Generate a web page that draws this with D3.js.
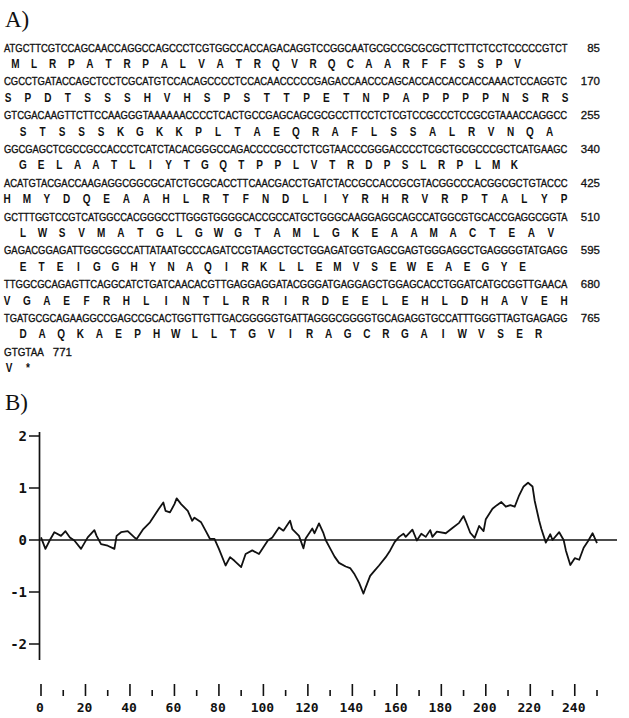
<!DOCTYPE html>
<html><head><meta charset="utf-8">
<script src="https://cdn.jsdelivr.net/npm/d3@7"></script>
<style>html,body{margin:0;padding:0;background:#fff}svg{display:block}</style>
</head><body>
<script>
// Nucleotide sequence, 85 bases per line
const dnaRows = [
  "ATGCTTCGTCCAGCAACCAGGCCAGCCCTCGTGGCCACCAGACAGGTCCGGCAATGCGCCGCGCGCTTCTTCTCCTCCCCCGTCT",
  "CGCCTGATACCAGCTCCTCGCATGTCCACAGCCCCTCCACAACCCCCGAGACCAACCCAGCACCACCACCACCAAACTCCAGGTC",
  "GTCGACAAGTTCTTCCAAGGGTAAAAAACCCCTCACTGCCGAGCAGCGCGCCTTCCTCTCGTCCGCCCTCCGCGTAAACCAGGCC",
  "GGCGAGCTCGCCGCCACCCTCATCTACACGGGCCAGACCCCGCCTCTCGTAACCCGGGACCCCTCGCTGCGCCCGCTCATGAAGC",
  "ACATGTACGACCAAGAGGCGGCGCATCTGCGCACCTTCAACGACCTGATCTACCGCCACCGCGTACGGCCCACGGCGCTGTACCC",
  "GCTTTGGTCCGTCATGGCCACGGGCCTTGGGTGGGGCACCGCCATGCTGGGCAAGGAGGCAGCCATGGCGTGCACCGAGGCGGTA",
  "GAGACGGAGATTGGCGGCCATTATAATGCCCAGATCCGTAAGCTGCTGGAGATGGTGAGCGAGTGGGAGGCTGAGGGGTATGAGG",
  "TTGGCGCAGAGTTCAGGCATCTGATCAACACGTTGAGGAGGATACGGGATGAGGAGCTGGAGCACCTGGATCATGCGGTTGAACA",
  "TGATGCGCAGAAGGCCGAGCCGCACTGGTTGTTGACGGGGGTGATTAGGGCGGGGTGCAGAGGTGCCATTTGGGTTAGTGAGAGG",
  "GTGTAA"
];
// Translated protein, one string per line
const aaRows = [
  "MLRPATRPALVATRQVRQCAARFFSSPV",
  "SPDTSSSHVHSPSTTPETNPAPPPPNSRS",
  "STSSSKGKKPLTAEQRAFLSSALRVNQA",
  "GELAATLIYTGQTPPLVTRDPSLRPLMK",
  "HMYDQEAAHLRTFNDLIYRHRVRPTALYP",
  "LWSVMATGLGWGTAMLGKEAAMACTEAV",
  "ETEIGGHYNAQIRKLLEMVSEWEAEGYE",
  "VGAEFRHLINTLRRIRDEELEHLDHAVEH",
  "DAQKAEPHWLLTGVIRAGCRGAIWVSER",
  "V*"
];
const rowEnds = [85, 170, 255, 340, 425, 510, 595, 680, 765, 771];

// Hydropathy profile (residue number, mean hydropathy)
const hydroResidue = [0,2,4,6,9,11,13,15,18,21,24,25,27,30,33,34,36,39,42,43,46,49,51,53,55,56,58,60,61,63,66,68,69,72,74,76,78,80,83,85,87,90,92,95,98,100,102,104,107,109,112,113,116,118,119,122,123,125,127,128,130,132,134,137,139,141,143,145,146,148,150,152,155,157,159,161,163,164,167,169,171,173,175,176,178,182,185,188,190,191,193,195,197,199,200,203,205,207,209,211,213,215,217,219,221,222,224,225,227,229,230,233,235,236,238,240,242,244,246,248,250];
const hydroValue = [0.05,-0.17,0,0.15,0.08,0.17,0.05,-0.01,-0.17,0.05,0.19,0.08,-0.08,-0.11,-0.17,0.08,0.15,0.17,0.05,0.02,0.21,0.34,0.47,0.6,0.72,0.56,0.53,0.69,0.8,0.69,0.56,0.37,0.43,0.34,0.18,0.02,0.02,-0.17,-0.49,-0.33,-0.4,-0.52,-0.27,-0.2,-0.27,-0.14,-0.01,0.05,0.24,0.18,0.37,0.21,0.08,
  -0.16,0.03,0.22,0.13,0.32,0.13,0,-0.16,-0.32,-0.44,-0.51,-0.54,-0.66,-0.82,-1.03,-0.91,-0.69,-0.59,-0.49,-0.33,-0.2,-0.04,0.06,0.12,0.06,0.2,-0.01,0.12,0.06,0.19,0.06,0.16,0.13,0.23,0.33,0.46,0.36,0.14,0.04,0.27,0.17,0.4,0.6,0.67,0.73,0.64,0.67,0.64,0.86,1.03,1.1,1.03,0.75,0.37,0.21,-0.05,0.11,0,0.15,0,-0.2,-0.48,-0.35,-0.38,-0.15,-0.02,0.13,-0.06];

const yTickValues = [2, 1, 0, -1, -2];
const xMajorTicks = [0,20,40,60,80,100,120,140,160,180,200,220,240];
const xMinorTicks = [10,30,50,70,90,110,130,150,170,190,210,230,250];

// ---- layout ----
const W = 629, H = 718;
const svg = d3.select("body").append("svg")
  .attr("width", W).attr("height", H)
  .attr("xmlns", "http://www.w3.org/2000/svg");
svg.append("rect").attr("width", W).attr("height", H).attr("fill", "#fff");

const ink = "#111";
const seqFont = "'Liberation Sans Narrow','Liberation Sans',Arial,sans-serif";
const plotFont = "'DejaVu Sans Mono',monospace";

// Panel A: sequence listing
svg.append("text").attr("x", 5).attr("y", 27)
  .attr("font-family", "'Liberation Serif','Times New Roman',serif")
  .attr("font-size", 23).attr("fill", ink).text("A)");

const ntX = d3.scaleLinear().domain([0, 85]).range([4, 568]);
const rowY = d3.scaleLinear().domain([0, 1]).range([51.5, 85.3]);

// horizontal placement of the amino-acid lines (first letter centre, letter pitch)
const aaStart = [15.5, 8, 23, 23, 7, 23, 23, 7, 23, 9];
const aaPitch = [18.6, 19.9, 19.5, 18.2, 19.9, 19.55, 18.5, 19.9, 19.1, 19];

const seqG = svg.append("g").attr("fill", ink);

// each base line is squeezed horizontally so that 85 bases fill the column
seqG.selectAll("text.dna").data(dnaRows).join("text")
  .attr("class", "dna")
  .attr("font-family", seqFont)
  .attr("font-size", 11.5)
  .attr("stroke", ink).attr("stroke-width", 0.35)
  .text(d => d)
  .each(function (d, i) {
    const natural = this.getComputedTextLength();
    const target = ntX(d.length) - ntX(0);
    d3.select(this).attr("transform",
      `translate(${ntX(0)},${rowY(i)}) scale(${target / natural},1)`);
  });

seqG.selectAll("text.num").data(rowEnds).join("text")
  .attr("class", "num")
  .attr("x", (d, i) => i < rowEnds.length - 1 ? 600 : ntX(dnaRows[i].length) + 9)
  .attr("y", (d, i) => rowY(i))
  .attr("text-anchor", (d, i) => i < rowEnds.length - 1 ? "end" : "start")
  .attr("font-family", seqFont)
  .attr("font-size", 11.5)
  .attr("stroke", ink).attr("stroke-width", 0.3)
  .text(d => d);

aaRows.forEach((row, i) => {
  seqG.append("g").selectAll("text").data(row.split("")).join("text")
    .attr("transform", (d, j) =>
      `translate(${aaStart[i] + j * aaPitch[i]},${rowY(i) + 16.5}) scale(0.8,1)`)
    .attr("text-anchor", "middle")
    .attr("font-family", seqFont)
    .attr("font-size", 12.5)
    .attr("font-weight", "bold")
    .text(d => d);
});

// Panel B: hydropathy plot
svg.append("text").attr("x", 5).attr("y", 410)
  .attr("font-family", "'Liberation Serif','Times New Roman',serif")
  .attr("font-size", 23).attr("fill", ink).text("B)");

const x = d3.scaleLinear().domain([0, 250]).range([41, 597]);
const y = d3.scaleLinear().domain([-2, 2]).range([644, 436]);
const axisX = 39.5;

const plot = svg.append("g").attr("stroke", ink).attr("fill", "none");

// vertical axis with tick dashes
plot.append("line").attr("x1", axisX).attr("x2", axisX)
  .attr("y1", 432).attr("y2", 660).attr("stroke-width", 1.7);
plot.selectAll("line.ytick").data(yTickValues).join("line")
  .attr("class", "ytick")
  .attr("x1", 29).attr("x2", axisX)
  .attr("y1", d => y(d)).attr("y2", d => y(d))
  .attr("stroke-width", 1.5);
svg.selectAll("text.ylab").data(yTickValues).join("text")
  .attr("class", "ylab")
  .attr("x", 27).attr("y", d => y(d)).attr("dy", "0.36em")
  .attr("text-anchor", "end")
  .attr("font-family", plotFont).attr("font-weight", "bold")
  .attr("font-size", 14).attr("fill", ink)
  .text(d => d < 0 ? "-" + Math.abs(d) : d);

// zero reference line
plot.append("line").attr("x1", axisX).attr("x2", x(259))
  .attr("y1", y(0)).attr("y2", y(0)).attr("stroke-width", 1.6);

// profile trace
const line = d3.line().x((d, i) => x(hydroResidue[i])).y(d => y(d));
plot.append("path").datum(hydroValue)
  .attr("d", line)
  .attr("stroke-width", 1.8)
  .attr("stroke-linejoin", "round");

// residue scale ticks
plot.selectAll("line.xmaj").data(xMajorTicks).join("line")
  .attr("class", "xmaj")
  .attr("x1", d => x(d)).attr("x2", d => x(d))
  .attr("y1", 684).attr("y2", 696).attr("stroke-width", 1.6);
plot.selectAll("line.xmin").data(xMinorTicks).join("line")
  .attr("class", "xmin")
  .attr("x1", d => x(d)).attr("x2", d => x(d))
  .attr("y1", 690).attr("y2", 696).attr("stroke-width", 1.6);
svg.selectAll("text.xlab").data(xMajorTicks).join("text")
  .attr("class", "xlab")
  .attr("x", d => x(d) - 1).attr("y", 712)
  .attr("text-anchor", "middle")
  .attr("font-family", plotFont).attr("font-weight", "bold")
  .attr("font-size", 13).attr("fill", ink)
  .text(d => d);
</script>
</body></html>
